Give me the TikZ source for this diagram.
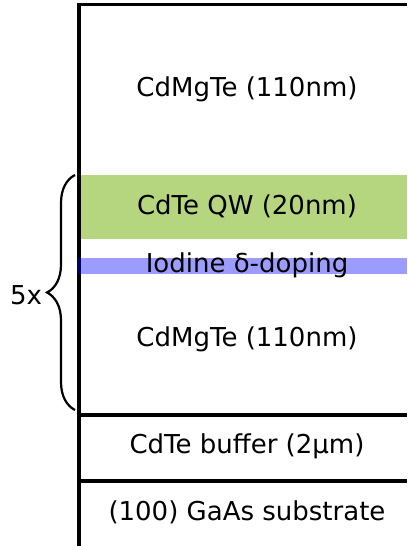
\documentclass[tikz,border=0pt]{standalone}
\usepackage{fontspec}
\setmainfont{DejaVu Sans}
\usetikzlibrary{decorations.pathreplacing}
\definecolor{qwgreen}{RGB}{181,213,127}
\definecolor{dopeblue}{RGB}{0,0,255}
\begin{document}
\begin{tikzpicture}[x=1pt,y=-1pt,
  layertext/.style={font=\fontsize{26}{31}\selectfont, inner sep=0pt, anchor=base},
  wall/.style={line width=3.3pt, black}]
\useasboundingbox (0,0) rectangle (407,546);
% quantum well
\fill[qwgreen] (80,175) rectangle (407,239);
% layer boundaries
\draw[wall] (77.4,4.5) -- (407,4.5);
\draw[wall] (79,2.9) -- (79,546);
\draw[wall] (79,415) -- (407,415);
\draw[wall] (79,481) -- (407,481);
% iodine delta-doping sheet
\fill[dopeblue, fill opacity=0.39] (77,258) rectangle (407,274);
% layer labels
\node[layertext] (barTop) at (247,96) {CdMgTe (110nm)};
\node[layertext] (qw) at (247,214) {CdTe QW (20nm)};
\node[layertext] (dop) at (247,272) {Iodine δ-doping};
\node[layertext] (barBot) at (247,346) {CdMgTe (110nm)};
\node[layertext] (buf) at (247,453) {CdTe buffer (2μm)};
\node[layertext] (sub) at (247,520) {(100) GaAs substrate};
% repetition brace
\coordinate (braceLow) at (75,410);
\coordinate (braceHigh) at (75,175);
\draw[line width=2.2pt, decorate, decoration={brace, amplitude=28pt}] (braceLow) -- (braceHigh);
\node[layertext] (rep) at (26,304) {5x};
\end{tikzpicture}
\end{document}
